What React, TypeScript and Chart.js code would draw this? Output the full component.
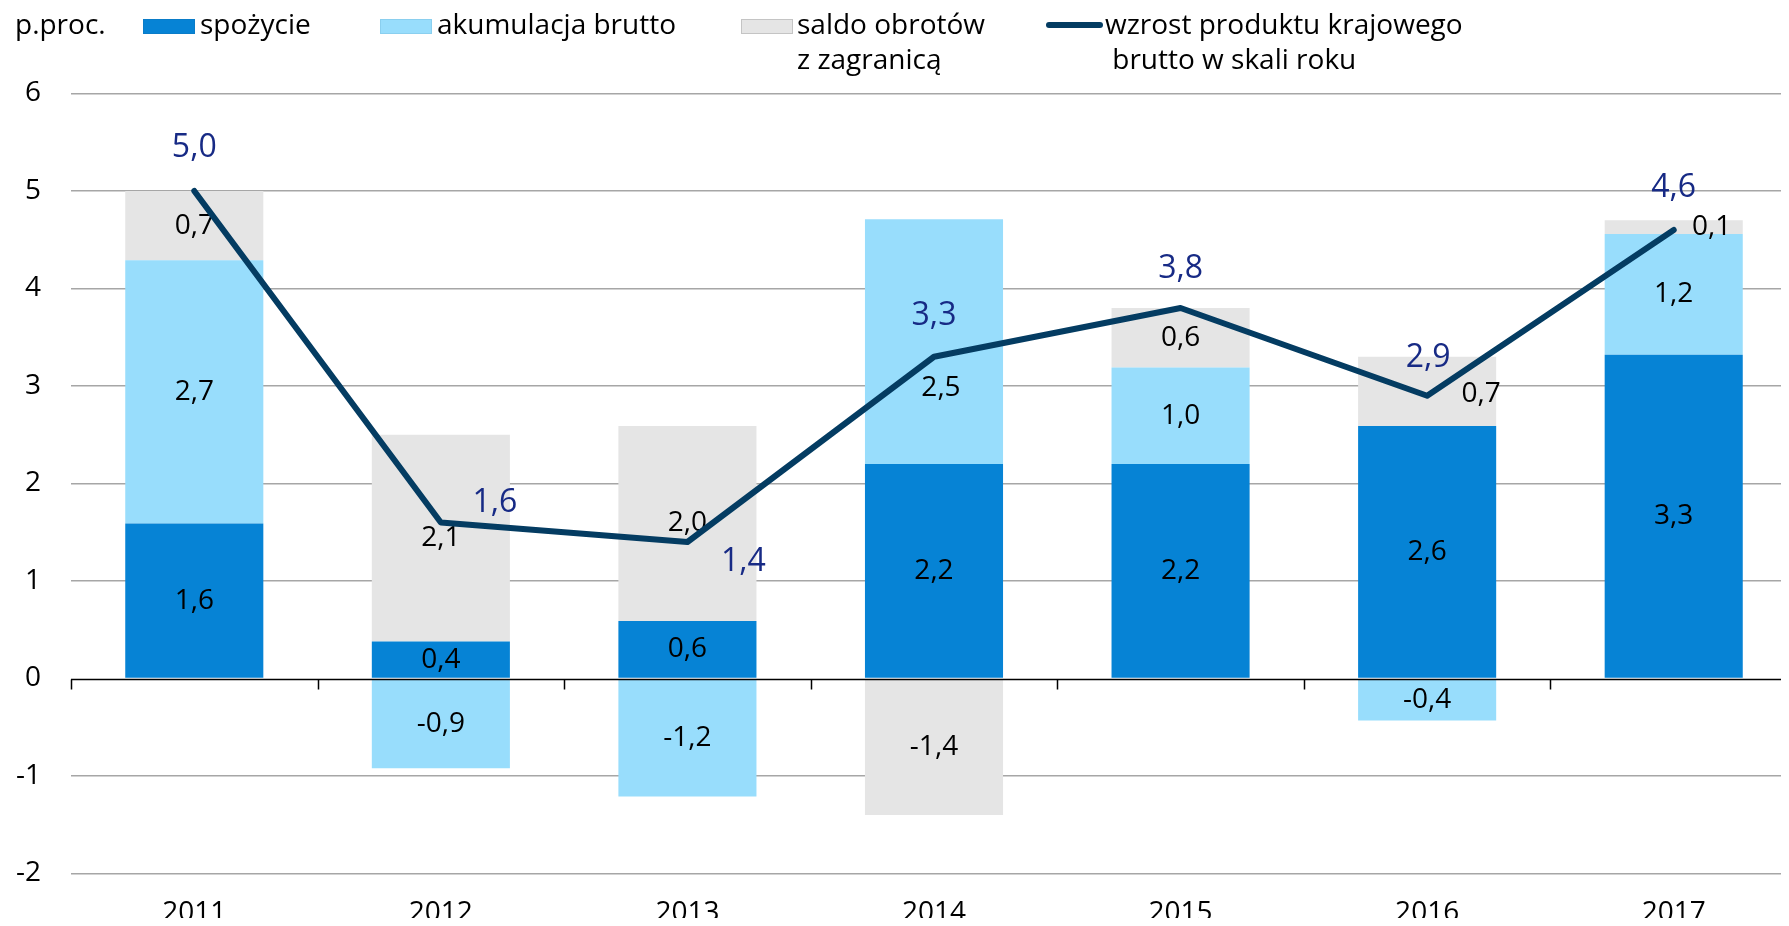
import { useEffect, useRef } from "react";
import { Chart, registerables } from "chart.js";

Chart.register(...registerables);

// ---- data ----
const years = ["2011", "2012", "2013", "2014", "2015", "2016", "2017"];
const consumption = [1.59, 0.38, 0.59, 2.2, 2.2, 2.59, 3.32];
const grossCapital = [2.7, -0.92, -1.21, 2.51, 0.99, -0.43, 1.24];
const netExports = [0.71, 2.12, 2.0, -1.4, 0.61, 0.71, 0.14];
const gdpGrowth = [5.0, 1.6, 1.4, 3.3, 3.8, 2.9, 4.6];
const yMin = -2;
const yMax = 6;
const yStep = 1;
const unitLabel = "p.proc.";
const seriesNames = [
  ["spożycie"],
  ["akumulacja brutto"],
  ["saldo obrotów", "z zagranicą"],
  ["wzrost produktu krajowego", " brutto w skali roku"],
];

// ---- style ----
const FONT = '"Open Sans", "Noto Sans", sans-serif';
const C_CONS = "#0683D5";
const C_INV = "#98DDFC";
const C_NX = "#E5E5E5";
const C_LINE = "#043C62";
const C_LINE_LBL = "#172A85";

const fmt = (v: number) => v.toFixed(1).replace(".", ",");

// label nudges (dataset-index, point-index) -> [dx, dy]
const barLabelShift: Record<string, [number, number]> = {
  "1-3": [7, 46],
  "2-5": [54, 3],
  "2-6": [38, 0],
};
const lineLabelShift: [number, number][] = [
  [0, -43],
  [54, -20],
  [56, 20],
  [0, -41],
  [0, -39],
  [1, -38],
  [0, -42],
];

const labelsPlugin = {
  id: "customLabels",
  beforeDatasetDraw(chart: any, args: any) {
    if (args.index !== 3) return;
    const ctx = chart.ctx;
    // zero axis line with category ticks
    const yS = chart.scales.y;
    const y0 = Math.round(yS.getPixelForValue(0)) + 0.5;
    const area = chart.chartArea;
    ctx.save();
    ctx.strokeStyle = "#000";
    ctx.lineWidth = 1.5;
    ctx.beginPath();
    ctx.moveTo(area.left, y0);
    ctx.lineTo(area.right, y0);
    const n = chart.data.labels.length;
    const w = (area.right - area.left) / n;
    for (let i = 0; i <= n; i++) {
      const x = Math.round(area.left + i * w) + 0.5;
      ctx.moveTo(x, y0);
      ctx.lineTo(x, y0 + 10);
    }
    ctx.stroke();
    ctx.restore();

    // bar labels
    ctx.save();
    ctx.font = `28px ${FONT}`;
    ctx.fillStyle = "#000";
    ctx.textAlign = "center";
    ctx.textBaseline = "middle";
    for (let d = 0; d < 3; d++) {
      const meta = chart.getDatasetMeta(d);
      const ds = chart.data.datasets[d];
      meta.data.forEach((el: any, i: number) => {
        const v = ds.data[i];
        const p = el.getProps(["x", "y", "base"], true);
        const sh = barLabelShift[`${d}-${i}`] || [0, 0];
        ctx.fillText(fmt(v), p.x + sh[0], (p.y + p.base) / 2 + sh[1]);
      });
    }
    ctx.restore();
  },
  afterDatasetsDraw(chart: any) {
    const ctx = chart.ctx;
    const meta = chart.getDatasetMeta(3);
    const ds = chart.data.datasets[3];
    ctx.save();
    ctx.font = `32px ${FONT}`;
    ctx.fillStyle = C_LINE_LBL;
    ctx.textAlign = "center";
    ctx.textBaseline = "middle";
    meta.data.forEach((el: any, i: number) => {
      const sh = lineLabelShift[i] || [0, -40];
      ctx.fillText(fmt(ds.data[i]), el.x + sh[0], el.y + sh[1]);
    });
    ctx.restore();

    // legend
    ctx.save();
    ctx.font = `28px ${FONT}`;
    ctx.fillStyle = "#000";
    ctx.textAlign = "left";
    ctx.textBaseline = "alphabetic";
    const base1 = 34;
    const lh = 35;
    ctx.fillText(unitLabel, 15, base1);
    const boxes: [number, string, string, number][] = [
      [143, C_CONS, "#0A7CC8", 200],
      [380, C_INV, "#8ACFEF", 437],
      [741, C_NX, "#C4C4C4", 797],
    ];
    boxes.forEach(([bx, fill, stroke, tx], k) => {
      ctx.fillStyle = fill;
      ctx.fillRect(bx, 19, 52, 15);
      ctx.strokeStyle = stroke;
      ctx.lineWidth = 1;
      ctx.strokeRect(bx + 0.5, 19.5, 51, 14);
      ctx.fillStyle = "#000";
      seriesNames[k].forEach((t, j) => ctx.fillText(t, tx, base1 + j * lh));
    });
    ctx.strokeStyle = C_LINE;
    ctx.lineWidth = 6;
    ctx.lineCap = "round";
    ctx.beginPath();
    ctx.moveTo(1049, 25);
    ctx.lineTo(1100, 25);
    ctx.stroke();
    ctx.fillStyle = "#000";
    seriesNames[3].forEach((t, j) => ctx.fillText(t, 1105, base1 + j * lh));
    ctx.restore();
  },
};

export default function App() {
  const ref = useRef<HTMLCanvasElement | null>(null);
  useEffect(() => {
    if (!ref.current) return;
    const barCommon = {
      type: "bar",
      borderWidth: 0,
      stack: "gdp",
      order: 1,
      barPercentage: 0.56,
      categoryPercentage: 1,
    };
    const chart = new Chart(ref.current, {
      type: "bar",
      data: {
        labels: years,
        datasets: [
          { ...barCommon, label: seriesNames[0].join(" "), data: consumption, backgroundColor: C_CONS } as any,
          { ...barCommon, label: seriesNames[1].join(" "), data: grossCapital, backgroundColor: C_INV } as any,
          { ...barCommon, label: seriesNames[2].join(" "), data: netExports, backgroundColor: C_NX } as any,
          {
            type: "line",
            label: seriesNames[3].join(" "),
            data: gdpGrowth,
            borderColor: C_LINE,
            backgroundColor: C_LINE,
            borderWidth: 6,
            pointRadius: 0,
            tension: 0,
            borderCapStyle: "round",
            borderJoinStyle: "round",
            stack: "line",
            order: 0,
          } as any,
        ],
      },
      options: {
        animation: false,
        responsive: false,
        devicePixelRatio: 1,
        layout: { padding: { top: 93.5, right: 13, bottom: 0, left: 0 } },
        plugins: {
          legend: { display: false },
          tooltip: { enabled: false },
        },
        scales: {
          x: {
            stacked: true,
            offset: true,
            grid: { display: false, drawTicks: false },
            border: { display: false },
            ticks: {
              color: "#000",
              font: { family: FONT, size: 28 },
              padding: 23,
              maxRotation: 0,
              autoSkip: false,
            },
            afterFit(s: any) {
              s.height = 52.5;
            },
          },
          y: {
            stacked: true,
            min: yMin,
            max: yMax,
            ticks: {
              stepSize: yStep,
              color: "#000",
              font: { family: FONT, size: 28 },
              padding: 30,
              callback: (v: any) => String(v),
            },
            grid: {
              color: (c: any) => (c.tick && c.tick.value === 0 ? "rgba(0,0,0,0)" : "#A6A6A6"),
              lineWidth: 1.5,
              drawTicks: false,
            },
            border: { display: false },
            afterFit(s: any) {
              s.width = 71;
            },
          },
        },
      } as any,
      plugins: [labelsPlugin],
    });
    return () => chart.destroy();
  }, []);

  return (
    <div
      style={{
        width: 1789,
        height: 926,
        overflow: "hidden",
        margin: "-8px 0 -8px -8px",
        position: "relative",
        background: "#fff",
      }}
    >
      <canvas ref={ref} width={1810} height={926} style={{ display: "block" }} />
    </div>
  );
}
